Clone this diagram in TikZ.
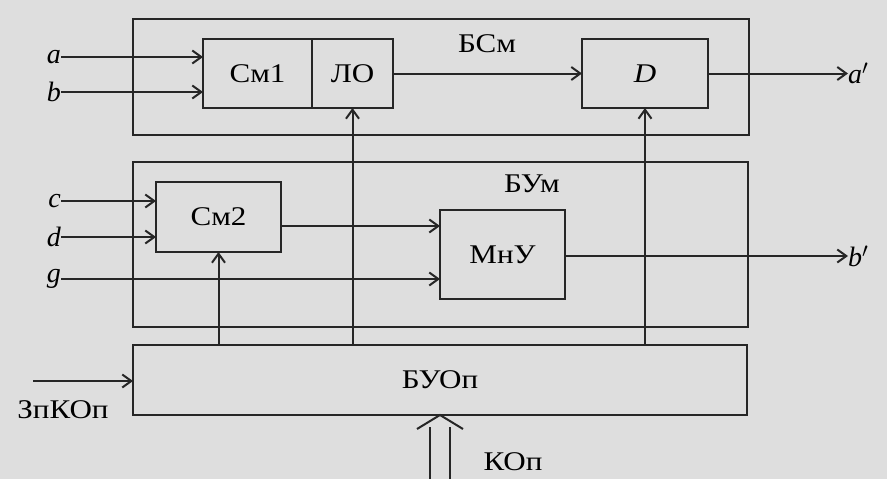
\documentclass[tikz,border=0pt]{standalone}
\usepackage{fontspec}
\setmainfont{Liberation Serif}
\newfontfamily\widefont[FakeStretch=1.15]{Liberation Serif}
\usetikzlibrary{arrows.meta,calc}
\begin{document}
\begin{tikzpicture}[x=1pt,y=-1pt,
  ln/.style={line width=2pt,draw=black!85},
  arr/.style={ln,-{Straight Barb[length=9pt,width=13pt,line width=2pt]}},
  blk/.style={ln,rectangle,inner sep=0pt,outer sep=0pt,font=\widefont\fontsize{27}{30}\selectfont},
  txt/.style={inner sep=0pt,font=\widefont\fontsize{27}{30}\selectfont},
  var/.style={inner sep=0pt,font=\fontsize{28}{31}\selectfont\itshape}]
\fill[black!13] (0,0) rectangle (887,479);
\useasboundingbox (0,0) rectangle (887,479);
% outer blocks
\node[blk,minimum width=616pt,minimum height=116pt] (bsm) at (441,77) {};
\node[blk,minimum width=615pt,minimum height=165pt] (bum) at (440.5,244.5) {};
\node[blk,minimum width=614pt,minimum height=70pt] (buop) at (440,380) {БУОп};
\node[txt] (lbsm) at (487,44) {БСм};
\node[txt] (lbum) at (532,184) {БУм};
% inner blocks
\node[blk,minimum width=109pt,minimum height=69pt] (sm1) at (257.5,73.5) {См1};
\node[blk,minimum width=81pt,minimum height=69pt] (lo) at (352.5,73.5) {ЛО};
\node[blk,minimum width=126pt,minimum height=69pt] (D) at (645,73.5) {\itshape D};
\node[blk,minimum width=125pt,minimum height=70pt] (sm2) at (218.5,217) {См2};
\node[blk,minimum width=125pt,minimum height=89pt] (mnu) at (502.5,254.5) {МнУ};
% inputs
\node[var,anchor=east] (la) at (61,57) {a};
\node[var,anchor=east] (lb) at (61,92) {b};
\node[var,anchor=east] (lc) at (61,201) {c};
\node[var,anchor=east] (ld) at (61,237) {d};
\node[var,anchor=east] (lg) at (61,279) {g};
\node[var,anchor=west] (lap) at (848,73.5) {a$'$};
\node[var,anchor=west] (lbp) at (848,256) {b$'$};
\node[txt] (lzp) at (63,410) {ЗпКОп};
\node[txt] (lkop) at (513,462) {КОп};
\coordinate (zin) at (33,381);
\coordinate (kin) at (440,479);
\coordinate (s2o) at ($(sm2.east)+(0,9)$);
\coordinate (mno) at ($(mnu.east)+(0,1.5)$);
% connectors
\draw[arr] (la.east) -- (la.east -| sm1.west);
\draw[arr] (lb.east) -- (lb.east -| sm1.west);
\draw[arr] (lo.east) -- (D.west);
\draw[arr] (D.east) -- (lap.west);
\draw[arr] (lc.east) -- (lc.east -| sm2.west);
\draw[arr] (ld.east) -- (ld.east -| sm2.west);
\draw[arr] (lg.east) -- (lg.east -| mnu.west);
\draw[arr] (s2o) -- (s2o -| mnu.west);
\draw[arr] (mno) -- (lbp.west);
\draw[arr] (sm2.south |- buop.north) -- (sm2.south);
\draw[arr] (lo.south |- buop.north) -- (lo.south);
\draw[arr] (D.south |- buop.north) -- (D.south);
\draw[arr] (zin) -- (zin -| buop.west);
% wide input arrow
\draw[ln] ($(kin)+(-10,0)$) -- ($(kin)+(-10,-52)$);
\draw[ln] ($(kin)+(10,0)$) -- ($(kin)+(10,-52)$);
\draw[ln,line join=miter] ($(buop.south -| kin)+(-23,14)$) -- (buop.south -| kin) -- ($(buop.south -| kin)+(23,14)$);
\end{tikzpicture}
\end{document}
